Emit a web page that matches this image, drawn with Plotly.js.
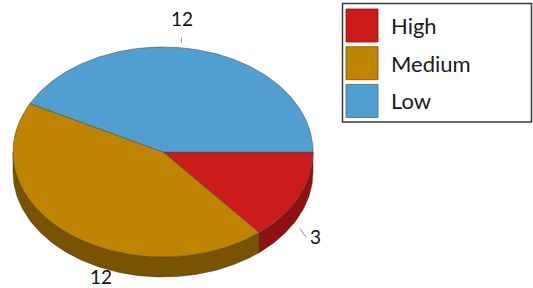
<!DOCTYPE html>
<html>
<head>
<meta charset="utf-8">
<script src="https://cdn.plot.ly/plotly-3.0.1.min.js"></script>
<style>html,body{margin:0;padding:0;background:#fff;}#chart{width:533px;height:288px;}</style>
</head>
<body>
<div id="chart"></div>
<script>
// ---- data ----
const categories = ['High', 'Medium', 'Low'];
const values = [3, 12, 12];

// ---- style ----
const topColors = ['#CC1B1B', '#C08500', '#519FD0'];
const sideColors = ['#8E1212', '#7A5300', '#2F6E99'];
const labelShift = [[19, 16], [-6, 7], [1, -29]];
const leaderSeg = [[[4, 8], [10, 17]], null, [[0, -10], [0, -5]]];

const CX = 163, CY = 152, RX = 150, RY = 105, DEPTH = 20;
const DEG = Math.PI / 180;

function rim(theta) {
  const c = Math.cos(theta * DEG), s = Math.sin(theta * DEG);
  const r = 1 / Math.sqrt((c * c) / (RX * RX) + (s * s) / (RY * RY));
  return [CX + r * c, CY + r * s];
}
function arc(a, b, dy) {
  const pts = [];
  const n = Math.max(2, Math.ceil(Math.abs(b - a) / 1));
  for (let i = 0; i <= n; i++) {
    const t = a + (b - a) * i / n;
    const p = rim(t);
    pts.push([p[0], p[1] + dy]);
  }
  return pts;
}

const total = values.reduce((s, v) => s + v, 0);
const slices = [];
let acc = 0;
values.forEach((v, i) => {
  const a = acc / total * 360;
  acc += v;
  const b = acc / total * 360;
  slices.push({a, b, i});
});

const traces = [];
// side walls (front half, 0..180 deg on screen)
slices.forEach(sl => {
  const a = Math.max(sl.a, 0), b = Math.min(sl.b, 180);
  if (a < b) {
    const top = arc(a, b, 0);
    const bot = arc(b, a, DEPTH);
    const pts = top.concat(bot);
    pts.push(top[0]);
    traces.push({
      type: 'scatter', mode: 'lines', fill: 'toself',
      x: pts.map(p => p[0]), y: pts.map(p => p[1]),
      fillcolor: sideColors[sl.i],
      line: {color: 'rgba(60,40,20,0.7)', width: 0.6},
      hoverinfo: 'skip', showlegend: false
    });
  }
});
// top faces
slices.forEach(sl => {
  const pts = [[CX, CY]].concat(arc(sl.a, sl.b, 0));
  pts.push([CX, CY]);
  traces.push({
    type: 'scatter', mode: 'lines', fill: 'toself',
    x: pts.map(p => p[0]), y: pts.map(p => p[1]),
    fillcolor: topColors[sl.i],
    line: {color: 'rgba(70,70,70,0.75)', width: 0.7},
    name: categories[sl.i], hoverinfo: 'name', showlegend: false
  });
});

// labels
const annotations = [];
slices.forEach(sl => {
  const mid = (sl.a + sl.b) / 2;
  const p = rim(mid);
  const ay = p[1] + (Math.sin(mid * DEG) > 0 ? DEPTH : 0);
  const sh = labelShift[sl.i];
  annotations.push({
    x: p[0] + sh[0], y: ay + sh[1], xref: 'x', yref: 'y',
    text: String(values[sl.i]), showarrow: false,
    font: {family: 'Lato, sans-serif', size: 19, color: '#111111'},
    xanchor: 'center', yanchor: 'middle'
  });
  const ld = leaderSeg[sl.i];
  if (ld) {
    traces.push({
      type: 'scatter', mode: 'lines',
      x: [p[0] + ld[0][0], p[0] + ld[1][0]],
      y: [ay + ld[0][1], ay + ld[1][1]],
      line: {color: '#8a8a8a', width: 1},
      hoverinfo: 'skip', showlegend: false
    });
  }
});

// legend (drawn as shapes + text)
const shapes = [{
  type: 'rect', xref: 'x', yref: 'y', x0: 342.5, x1: 531.5, y0: 3.5, y1: 122,
  line: {color: '#3a3a3a', width: 1.5}, fillcolor: '#ffffff', layer: 'below'
}];
categories.forEach((c, i) => {
  const y0 = 9 + i * 37.7;
  shapes.push({
    type: 'rect', xref: 'x', yref: 'y', x0: 346, x1: 378, y0: y0, y1: y0 + 33,
    line: {color: sideColors[i], width: 0.8}, fillcolor: topColors[i]
  });
  annotations.push({
    x: 389, y: y0 + 16.5, xref: 'x', yref: 'y', text: c, showarrow: false,
    xanchor: 'left', yanchor: 'middle',
    font: {family: 'Lato, sans-serif', size: 22, color: '#1a1a1a'}
  });
});

const layout = {
  width: 533, height: 288,
  margin: {l: 0, r: 0, t: 0, b: 0},
  paper_bgcolor: '#ffffff', plot_bgcolor: '#ffffff',
  xaxis: {range: [0, 533], visible: false, fixedrange: true},
  yaxis: {range: [288, 0], visible: false, fixedrange: true},
  showlegend: false,
  shapes: shapes,
  annotations: annotations
};

Plotly.newPlot('chart', traces, layout, {displayModeBar: false, staticPlot: true});
</script>
</body>
</html>
